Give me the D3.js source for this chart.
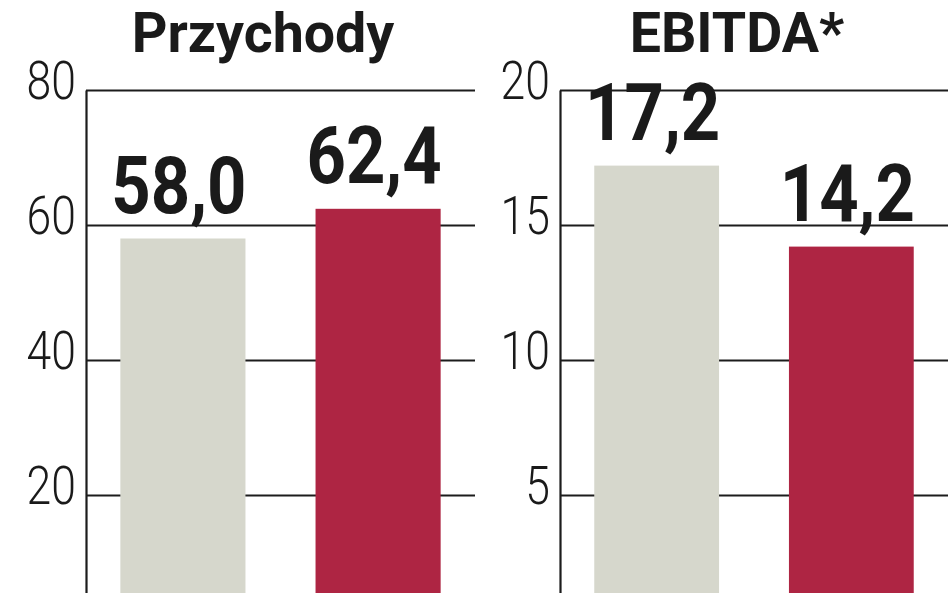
<!DOCTYPE html>
<html>
<head>
<meta charset="utf-8">
<script src="https://cdn.jsdelivr.net/npm/d3@7"></script>
<style>
  html, body { margin: 0; padding: 0; background: #ffffff; overflow: hidden; }
  svg { display: block; }
</style>
</head>
<body>
<div id="chart"></div>
<script>
// ---- data ----
const categories = ["okres poprzedni", "okres bieżący"];
const panelTitles = ["Przychody", "EBITDA*"];
const revenueValues = [58.0, 62.4];
const ebitdaValues = [17.2, 14.2];
const revenueTicks = [20, 40, 60, 80];
const ebitdaTicks = [5, 10, 15, 20];
const revenueMax = 80;
const ebitdaMax = 20;

// ---- layout ----
const W = 948, H = 593;
const colors = ["#d6d7cc", "#ae2543"];
const fmt = v => d3.format(".1f")(v).replace(".", ",");

const svg = d3.select("#chart").append("svg")
  .attr("width", W).attr("height", H);

const panels = [
  { title: panelTitles[0], values: revenueValues, ticks: revenueTicks, max: revenueMax, x0: 86, x1: 475 },
  { title: panelTitles[1], values: ebitdaValues, ticks: ebitdaTicks, max: ebitdaMax, x0: 560, x1: 948 }
];

const yTop = 90, yZero = 630;

panels.forEach(p => {
  const y = d3.scaleLinear().domain([0, p.max]).range([yZero, yTop]);
  const x = d3.scaleBand().domain(categories).range([p.x0, p.x1])
    .paddingInner(0.359).paddingOuter(0.176);

  const g = svg.append("g");

  // axis + gridlines
  const axis = d3.axisLeft(y).tickValues(p.ticks).tickSize(-(p.x1 - p.x0)).tickSizeOuter(0)
    .tickFormat(d => d);
  const ag = g.append("g").attr("transform", `translate(${p.x0},0)`).call(axis);
  ag.select(".domain").attr("stroke", "#1c1c1c").attr("stroke-width", 2.2);
  ag.selectAll(".tick line").attr("stroke", "#1c1c1c").attr("stroke-width", 2.2);
  ag.selectAll(".tick text")
    .attr("x", 0).attr("dy", 0).attr("y", 0)
    .attr("transform", "translate(-10,8) scale(0.84,1)")
    .attr("text-anchor", "end")
    .style("font-family", "Roboto, 'DejaVu Sans', sans-serif")
    .style("font-weight", 300)
    .style("font-size", "53px")
    .attr("fill", "#1a1a1a");

  // bars
  g.selectAll("rect.bar").data(p.values).join("rect")
    .attr("class", "bar")
    .attr("x", (d, i) => x(categories[i]))
    .attr("width", x.bandwidth())
    .attr("y", d => y(d))
    .attr("height", d => y(0) - y(d))
    .attr("fill", (d, i) => colors[i]);

  // value labels
  g.selectAll("text.val").data(p.values).join("text")
    .attr("class", "val")
    .attr("transform", (d, i) => `translate(${x(categories[i]) + x.bandwidth() / 2 - 4},${y(d) - 26}) scale(0.86,1)`)
    .attr("text-anchor", "middle")
    .style("font-family", "Roboto, 'DejaVu Sans', sans-serif")
    .style("font-weight", 700)
    .style("font-size", "80px")
    .attr("fill", "#1a1a1a")
    .text(d => fmt(d));

  // title
  g.append("text")
    .attr("transform", `translate(${p.x0 + 177},52) scale(1.01,1)`)
    .attr("text-anchor", "middle")
    .style("font-family", "Roboto, 'DejaVu Sans', sans-serif")
    .style("font-weight", 700)
    .style("font-size", "55px")
    .attr("fill", "#1a1a1a")
    .text(p.title);
});
</script>
</body>
</html>
